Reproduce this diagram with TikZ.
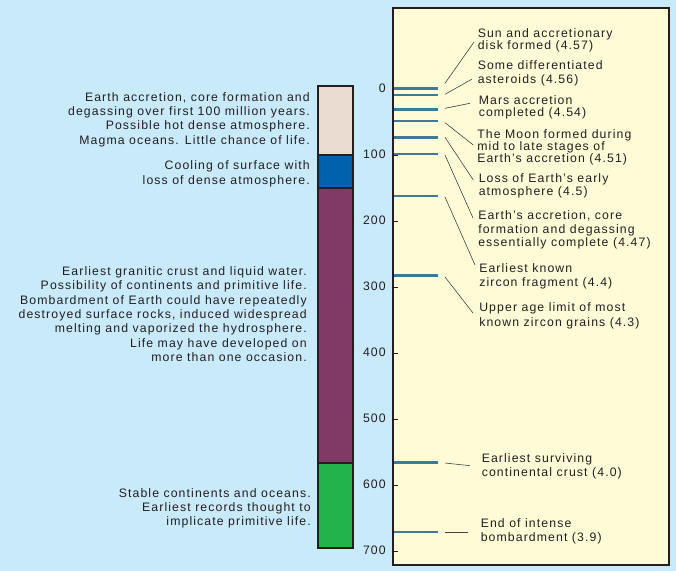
\documentclass[tikz,border=0pt]{standalone}
\usepackage{fontspec}
\setmainfont{Liberation Sans}[LetterSpace=9]
\definecolor{bgblue}{RGB}{200,234,250}
\definecolor{panel}{RGB}{255,251,215}
\definecolor{beige}{RGB}{233,219,208}
\definecolor{segblue}{RGB}{0,98,172}
\definecolor{segpurple}{RGB}{127,58,101}
\definecolor{seggreen}{RGB}{34,178,76}
\definecolor{evline}{RGB}{63,120,152}
\definecolor{txt}{RGB}{35,31,32}
\begin{document}
\begin{tikzpicture}[x=0.75pt,y=-0.75pt,
  ltext/.style={font=\fontsize{9.2}{10.6}\selectfont, inner sep=0pt, text=txt, align=right, anchor=base east},
  rtext/.style={font=\fontsize{9.2}{9.8}\selectfont, inner sep=0pt, text=txt, align=left, anchor=base west},
  axlbl/.style={font=\fontsize{9.2}{10.6}\selectfont, inner sep=0pt, text=txt, anchor=base east},
  seg/.style={draw=txt, line width=0.9pt},
  evt/.style={draw=evline, line width=2.1pt},
  leader/.style={draw=txt!85, line width=0.45pt},
  tick/.style={draw=txt, line width=0.6pt}]
% background
\fill[bgblue] (0,0) rectangle (676,571);
\useasboundingbox (0,0) rectangle (676,571);
% panel
\draw[fill=panel, draw=txt, line width=0.9pt] (393,8) rectangle (669,565);
% column
\path[seg, fill=beige] (318,86) rectangle (353,155);
\path[seg, fill=segblue] (318,155) rectangle (353,188);
\path[seg, fill=segpurple] (318,188) rectangle (353,463);
\path[seg, fill=seggreen] (318,463) rectangle (353,548);
% axis ticks and labels
\foreach \v [count=\i from 0] in {0,100,200,300,400,500,600,700} {
  \coordinate (t\i) at (393,89+66*\i);
  \draw[tick] (t\i) -- ++(5,0);
  \node[axlbl] (a\i) at (386,92+66*\i) {\v};
}
% event lines
\foreach \n/\y in {1/88.3,2/95,3/109.3,4/121,5/137.3,6/154,7/196,8/275.7,9/462.7,10/532} {
  \coordinate (e\n) at (393.5,\y);
  \coordinate (f\n) at (438,\y);
  \draw[evt] (e\n) -- (f\n);
}
% left texts (anchor = baseline of last line)
\node[ltext] (L1) at (310,144) {Earth accretion, core formation and\\degassing over first 100 million years.\\Possible hot dense atmosphere.\\Magma oceans. Little chance of life.};
\node[ltext] (L2) at (310,184) {Cooling of surface with\\loss of dense atmosphere.};
\node[ltext, font=\fontsize{9.2}{10.75}\selectfont] (L3) at (307,361.6) {Earliest granitic crust and liquid water.\\Possibility of continents and primitive life.\\Bombardment of Earth could have repeatedly\\destroyed surface rocks, induced widespread\\melting and vaporized the hydrosphere.\\Life may have developed on\\more than one occasion.};
\node[ltext] (L4) at (311,525.7) {Stable continents and oceans.\\Earliest records thought to\\implicate primitive life.};
% right labels
\node[rtext, font=\fontsize{9.2}{9}\selectfont] (R1) at (477.5,49.3) {Sun and accretionary\\disk formed (4.57)};
\node[rtext, font=\fontsize{9.2}{10}\selectfont] (R2) at (477.5,83.3) {Some differentiated\\asteroids (4.56)};
\node[rtext, font=\fontsize{9.2}{9.5}\selectfont] (R3) at (478.5,116.7) {Mars accretion\\completed (4.54)};
\node[rtext, font=\fontsize{9.2}{8.9}\selectfont] (R4) at (477,162.7) {The Moon formed during\\mid to late stages of\\Earth's accretion (4.51)};
\node[rtext, font=\fontsize{9.2}{8.3}\selectfont] (R5) at (478.5,195) {Loss of Earth's early\\atmosphere (4.5)};
\node[rtext, font=\fontsize{9.2}{10.2}\selectfont] (R6) at (478,246.7) {Earth's accretion, core\\formation and degassing\\essentially complete (4.47)};
\node[rtext, font=\fontsize{9.2}{10}\selectfont] (R7) at (479,286) {Earliest known\\zircon fragment (4.4)};
\node[rtext, font=\fontsize{9.2}{11.2}\selectfont] (R8) at (479,326.7) {Upper age limit of most\\known zircon grains (4.3)};
\node[rtext, font=\fontsize{9.2}{10}\selectfont] (R9) at (481.5,476) {Earliest surviving\\continental crust (4.0)};
\node[rtext, font=\fontsize{9.2}{10.8}\selectfont] (R10) at (480.5,541.7) {End of intense\\bombardment (3.9)};
% leader lines
\coordinate (s1) at (445,83.3);   \coordinate (u1) at (474,42);
\coordinate (s2) at (445,94.3);   \coordinate (u2) at (471.7,79.3);
\coordinate (s3) at (445,108.3);  \coordinate (u3) at (470,103.3);
\coordinate (s4) at (445,122.7);  \coordinate (u4) at (473.3,145);
\coordinate (s5) at (445,137.3);  \coordinate (u5) at (473.3,180);
\coordinate (s6) at (445,155);    \coordinate (u6) at (473,218);
\coordinate (s7) at (445,197);    \coordinate (u7) at (475,265);
\coordinate (s8) at (445,277);    \coordinate (u8) at (473,313);
\coordinate (s9) at (445,463);    \coordinate (u9) at (470,465.7);
\coordinate (s10) at (445,532);   \coordinate (u10) at (468,532);
\foreach \n in {1,...,10} { \draw[leader] (s\n) -- (u\n); }
\end{tikzpicture}
\end{document}
